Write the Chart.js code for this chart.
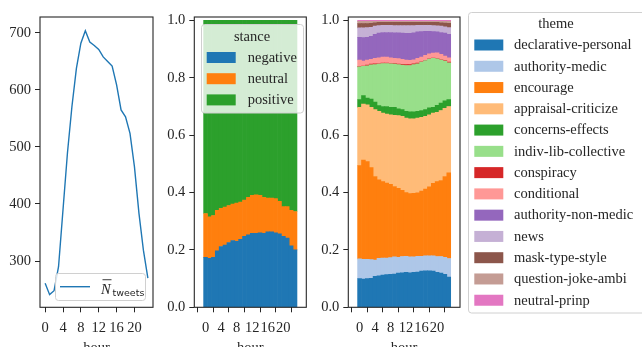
<!DOCTYPE html>
<html>
<head>
<meta charset="utf-8">
<script src="https://cdn.jsdelivr.net/npm/chart.js@4.4.1/dist/chart.umd.min.js"></script>
<style>
  html, body { margin: 0; padding: 0; background: #fff; }
  #wrap { position: relative; width: 642px; height: 347px; overflow: hidden; }
  #wrap canvas { position: absolute; left: 0; top: 0; }
</style>
</head>
<body>
<div id="wrap">
  <canvas id="tweets" width="642" height="347"></canvas>
  <canvas id="stance" width="642" height="347"></canvas>
  <canvas id="theme" width="642" height="347"></canvas>
</div>
<script>
var hours = [0, 1, 2, 3, 4, 5, 6, 7, 8, 9, 10, 11, 12, 13, 14, 15, 16, 17, 18, 19, 20, 21, 22, 23];
var hourTicks = [0, 4, 8, 12, 16, 20];
var tweetTicks = [300, 400, 500, 600, 700];
var shareTicks = [0, 0.2, 0.4, 0.6, 0.8, 1.0];

// mean number of tweets per hour of day
var tweetsPerHour = [261, 241, 248, 290, 390, 490, 571, 638, 682, 704, 684, 678,
                     671, 658, 650, 642, 609, 565, 553, 524, 465, 384, 319, 270];

// stance shares per hour
var stanceLabels = ['negative', 'neutral', 'positive'];
var stanceNegative = [0.174, 0.171, 0.174, 0.197, 0.212, 0.217, 0.226, 0.233, 0.230, 0.237, 0.247, 0.253,
                      0.258, 0.258, 0.260, 0.258, 0.263, 0.263, 0.260, 0.256, 0.247, 0.241, 0.214, 0.200];
var stanceNeutral = [0.153, 0.144, 0.146, 0.141, 0.133, 0.132, 0.129, 0.127, 0.133, 0.130, 0.127, 0.130,
                     0.132, 0.134, 0.130, 0.125, 0.118, 0.118, 0.119, 0.113, 0.104, 0.110, 0.124, 0.134];
var stancePositive = [0.673, 0.685, 0.680, 0.662, 0.655, 0.651, 0.645, 0.640, 0.637, 0.633, 0.626, 0.617,
                      0.610, 0.608, 0.610, 0.617, 0.619, 0.619, 0.621, 0.631, 0.649, 0.649, 0.662, 0.666];

// theme shares per hour
var themeLabels = ['declarative-personal', 'authority-medic', 'encourage', 'appraisal-criticize',
  'concerns-effects', 'indiv-lib-collective', 'conspiracy', 'conditional', 'authority-non-medic',
  'news', 'mask-type-style', 'question-joke-ambi', 'neutral-prinp'];
var declarativePersonal = [0.100, 0.098, 0.100, 0.101, 0.108, 0.110, 0.112, 0.114, 0.115, 0.116, 0.119, 0.120,
                           0.122, 0.120, 0.122, 0.123, 0.126, 0.127, 0.127, 0.126, 0.122, 0.119, 0.115, 0.105];
var authorityMedic = [0.069, 0.069, 0.067, 0.065, 0.057, 0.061, 0.060, 0.058, 0.058, 0.060, 0.055, 0.057,
                      0.056, 0.056, 0.054, 0.055, 0.052, 0.052, 0.052, 0.053, 0.055, 0.058, 0.059, 0.065];
var encourage = [0.325, 0.346, 0.341, 0.321, 0.291, 0.273, 0.266, 0.261, 0.256, 0.245, 0.241, 0.231,
                 0.222, 0.220, 0.221, 0.221, 0.227, 0.233, 0.241, 0.253, 0.261, 0.265, 0.282, 0.299];
var appraisalCriticize = [0.203, 0.195, 0.198, 0.210, 0.233, 0.239, 0.239, 0.241, 0.242, 0.248, 0.253, 0.258,
                          0.260, 0.261, 0.260, 0.261, 0.257, 0.254, 0.251, 0.245, 0.242, 0.244, 0.238, 0.231];
var concernsEffects = [0.027, 0.030, 0.023, 0.029, 0.026, 0.020, 0.023, 0.026, 0.026, 0.028, 0.024, 0.023,
                       0.023, 0.024, 0.024, 0.023, 0.024, 0.023, 0.024, 0.020, 0.024, 0.026, 0.026, 0.024];
var indivLibCollective = [0.114, 0.102, 0.113, 0.119, 0.131, 0.145, 0.150, 0.150, 0.152, 0.151, 0.154, 0.155,
                          0.160, 0.162, 0.165, 0.166, 0.169, 0.171, 0.170, 0.171, 0.162, 0.150, 0.138, 0.128];
var conspiracy = [0.001, 0.001, 0.002, 0.003, 0.003, 0.001, 0.001, 0.001, 0.001, 0.002, 0.002, 0.003,
                  0.003, 0.003, 0.003, 0.002, 0.001, 0.001, 0.001, 0.001, 0.001, 0.001, 0.002, 0.003];
var conditional = [0.023, 0.017, 0.018, 0.016, 0.019, 0.021, 0.021, 0.021, 0.020, 0.018, 0.019, 0.017,
                   0.016, 0.015, 0.014, 0.017, 0.016, 0.017, 0.018, 0.017, 0.020, 0.019, 0.016, 0.015];
var authorityNonMedic = [0.079, 0.082, 0.079, 0.081, 0.084, 0.086, 0.086, 0.086, 0.088, 0.089, 0.090, 0.092,
                         0.093, 0.094, 0.094, 0.092, 0.089, 0.084, 0.078, 0.075, 0.073, 0.076, 0.080, 0.082];
var news = [0.033, 0.034, 0.034, 0.031, 0.028, 0.026, 0.025, 0.025, 0.025, 0.025, 0.025, 0.026,
            0.027, 0.027, 0.025, 0.023, 0.022, 0.021, 0.021, 0.021, 0.021, 0.022, 0.022, 0.023];
var maskTypeStyle = [0.015, 0.015, 0.014, 0.014, 0.012, 0.011, 0.010, 0.010, 0.010, 0.011, 0.011, 0.011,
                     0.011, 0.011, 0.011, 0.010, 0.010, 0.010, 0.010, 0.011, 0.012, 0.012, 0.013, 0.015];
var questionJokeAmbi = [0.008, 0.008, 0.008, 0.007, 0.005, 0.004, 0.004, 0.004, 0.004, 0.004, 0.004, 0.004,
                        0.004, 0.004, 0.004, 0.004, 0.004, 0.004, 0.004, 0.004, 0.004, 0.005, 0.006, 0.007];
var neutralPrinp = [0.003, 0.003, 0.003, 0.003, 0.003, 0.003, 0.003, 0.003, 0.003, 0.003, 0.003, 0.003,
                    0.003, 0.003, 0.003, 0.003, 0.003, 0.003, 0.003, 0.003, 0.003, 0.003, 0.003, 0.003];

var stanceColors = ['#1f77b4', '#ff7f0e', '#2ca02c'];
var themeColors = ['#1f77b4', '#aec7e8', '#ff7f0e', '#ffbb78', '#2ca02c', '#98df8a', '#d62728',
                   '#ff9896', '#9467bd', '#c5b0d5', '#8c564b', '#c49c94', '#e377c2'];

var serif = 'Liberation Serif';
var ink = '#262626';

function points(values) {
  return values.map(function (v, i) { return {x: hours[i], y: v}; });
}

function xAxis(min, max) {
  return {
    type: 'linear', min: min, max: max, stacked: true,
    grid: {drawOnChartArea: false, drawTicks: true, tickLength: 5, tickColor: ink},
    border: {display: false},
    ticks: {color: ink, font: {family: serif, size: 14.5}, padding: 7, maxRotation: 0, autoSkip: false},
    afterBuildTicks: function (s) { s.ticks = hourTicks.map(function (v) { return {value: v}; }); },
    afterFit: function (s) { s.height = 39.7; },
    title: {display: true, text: 'hour', color: ink, font: {family: serif, size: 14.5}, padding: {top: 0, bottom: -9.5}}
  };
}

function yAxis(min, max, tickList, width, fmt) {
  return {
    type: 'linear', min: min, max: max, stacked: true,
    grid: {drawOnChartArea: false, drawTicks: true, tickLength: 5, tickColor: ink},
    border: {display: false},
    ticks: {color: ink, font: {family: serif, size: 14.5}, padding: 4, callback: fmt},
    afterBuildTicks: function (s) { s.ticks = tickList.map(function (v) { return {value: v}; }); },
    afterFit: function (s) { s.width = width; }
  };
}

var framePlugin = {
  id: 'frame',
  afterDatasetsDraw: function (chart) {
    var a = chart.chartArea, ctx = chart.ctx;
    ctx.save();
    ctx.strokeStyle = ink;
    ctx.lineWidth = 1.1;
    ctx.strokeRect(a.left, a.top, a.right - a.left, a.bottom - a.top);
    ctx.restore();
  }
};

function legendFrame(ctx, x, y, w, h) {
  ctx.beginPath();
  ctx.roundRect(x, y, w, h, 3);
  ctx.fillStyle = 'rgba(255,255,255,0.8)';
  ctx.fill();
  ctx.strokeStyle = '#d0d0d0';
  ctx.lineWidth = 1;
  ctx.stroke();
}

// boxed legend with title, like matplotlib's
var boxLegend = {
  id: 'boxLegend',
  afterDraw: function (chart, args, o) {
    if (!o.title) return;
    var ctx = chart.ctx;
    ctx.save();
    legendFrame(ctx, o.x, o.y, o.w, o.h);
    ctx.font = o.size + 'px "' + serif + '"';
    ctx.fillStyle = ink;
    ctx.textBaseline = 'middle';
    ctx.textAlign = 'center';
    ctx.fillText(o.title, o.titleX, o.titleY);
    ctx.textAlign = 'left';
    chart.data.datasets.forEach(function (ds, i) {
      var cy = o.firstY + i * o.step;
      ctx.fillStyle = ds.backgroundColor;
      ctx.fillRect(o.boxX, cy - 5.5, 29, 11);
      ctx.fillStyle = ink;
      ctx.fillText(ds.label, o.textX, cy + 0.5);
    });
    ctx.restore();
  }
};

// legend of the line panel: N with overline, subscript "tweets"
var lineLegend = {
  id: 'lineLegend',
  afterDraw: function (chart) {
    var ctx = chart.ctx;
    ctx.save();
    legendFrame(ctx, 55.5, 273.5, 90, 27);
    ctx.strokeStyle = chart.data.datasets[0].borderColor;
    ctx.lineWidth = 1.4;
    ctx.beginPath();
    ctx.moveTo(60, 286.7);
    ctx.lineTo(90, 286.7);
    ctx.stroke();
    ctx.fillStyle = ink;
    ctx.textBaseline = 'alphabetic';
    ctx.font = 'italic 14.5px "' + serif + '"';
    ctx.fillText('N', 101, 293.5);
    ctx.fillRect(102.5, 279.3, 9, 0.9);
    ctx.font = '9.5px "DejaVu Sans"';
    ctx.fillText('tweets', 112.5, 295.5);
    ctx.restore();
  }
};

new Chart(document.getElementById('tweets'), {
  type: 'line',
  data: {
    datasets: [{
      label: 'N tweets',
      data: points(tweetsPerHour),
      borderColor: '#1f77b4',
      borderWidth: 1.4,
      pointRadius: 0,
      tension: 0,
      fill: false
    }]
  },
  options: {
    responsive: false,
    animation: false,
    layout: {padding: {left: 0, right: 489, top: 17, bottom: 0}},
    plugins: {legend: {display: false}, tooltip: {enabled: false}},
    scales: {
      x: xAxis(-1.15, 24.15),
      y: yAxis(218.8, 728, tweetTicks, 40, function (v) { return String(v); })
    }
  },
  plugins: [framePlugin, lineLegend]
});

function barSets(labels, series, colors) {
  return labels.map(function (lab, i) {
    return {
      label: lab,
      data: points(series[i]),
      backgroundColor: colors[i],
      borderWidth: 0,
      barPercentage: 1,
      categoryPercentage: 1
    };
  });
}

function shareFmt(v) { return v.toFixed(1); }

new Chart(document.getElementById('stance'), {
  type: 'bar',
  data: {datasets: barSets(stanceLabels, [stanceNegative, stanceNeutral, stancePositive], stanceColors)},
  options: {
    responsive: false,
    animation: false,
    layout: {padding: {left: 160, right: 335.7, top: 17, bottom: 0}},
    plugins: {
      legend: {display: false},
      tooltip: {enabled: false},
      boxLegend: {
        title: 'stance', size: 14.5,
        x: 201.5, y: 24.5, w: 102, h: 88.5,
        titleX: 252, titleY: 37.5,
        boxX: 206.7, textX: 247.7, firstY: 57.5, step: 21.2
      }
    },
    scales: {
      x: xAxis(-0.5, 23.5),
      y: yAxis(0, 1.012, shareTicks, 34.3, shareFmt)
    }
  },
  plugins: [framePlugin, boxLegend]
});

new Chart(document.getElementById('theme'), {
  type: 'bar',
  data: {
    datasets: barSets(themeLabels, [declarativePersonal, authorityMedic, encourage, appraisalCriticize,
      concernsEffects, indivLibCollective, conspiracy, conditional, authorityNonMedic, news,
      maskTypeStyle, questionJokeAmbi, neutralPrinp], themeColors)
  },
  options: {
    responsive: false,
    animation: false,
    layout: {padding: {left: 310, right: 182, top: 17, bottom: 0}},
    plugins: {
      legend: {display: false},
      tooltip: {enabled: false},
      boxLegend: {
        title: 'theme', size: 14.5,
        x: 468.5, y: 12.5, w: 190, h: 300.5,
        titleX: 556, titleY: 24.5,
        boxX: 474.3, textX: 514, firstY: 45, step: 21.27
      }
    },
    scales: {
      x: xAxis(-0.5, 23.5),
      y: yAxis(0, 1.012, shareTicks, 38.3, shareFmt)
    }
  },
  plugins: [framePlugin, boxLegend]
});
</script>
</body>
</html>
